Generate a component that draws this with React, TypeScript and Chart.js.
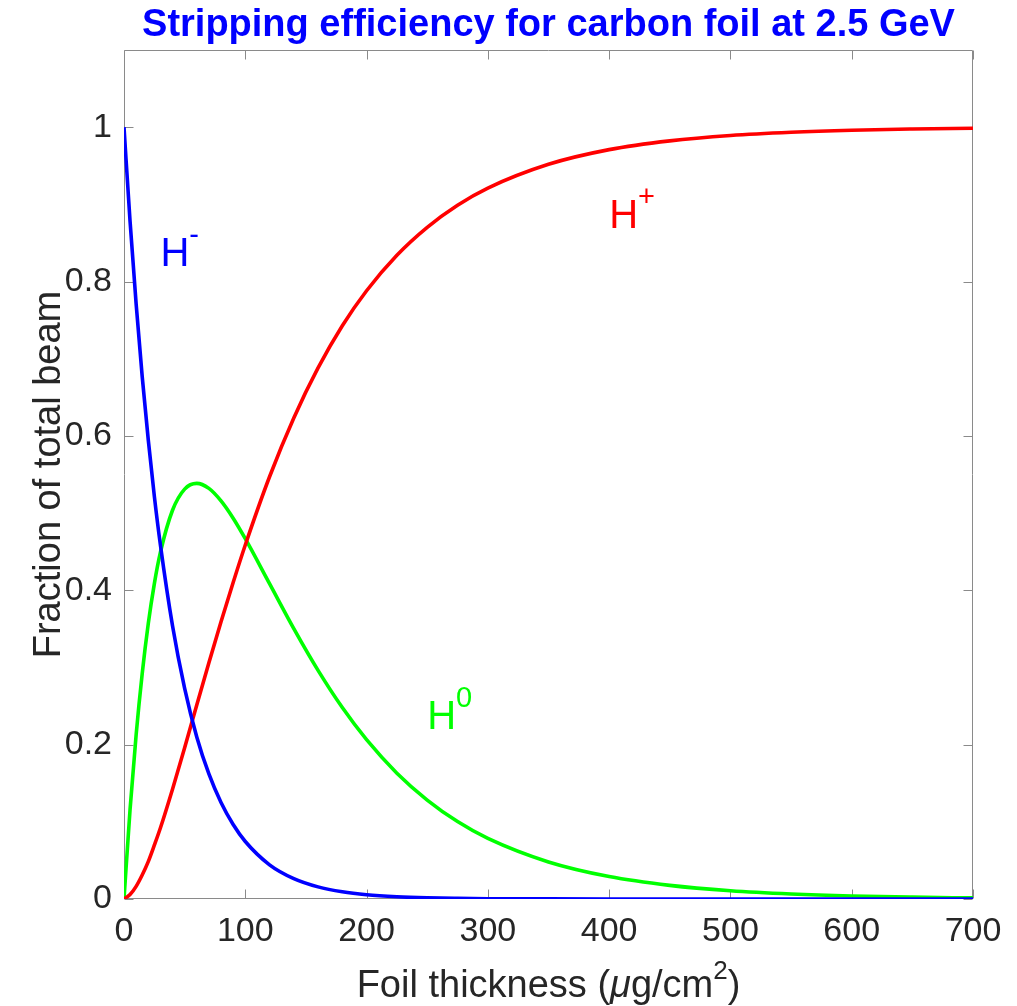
import { useEffect, useRef } from "react";
import { Chart, registerables } from "chart.js";

Chart.register(...registerables);

// Foil thickness samples (µg/cm²)
const thickness = [0, 5, 10, 15, 20, 25, 30, 40, 50, 60, 70, 80, 90, 100, 120, 140, 160, 180, 200, 225, 250, 275, 300, 350, 400, 450, 500, 550, 600, 650, 700];

// Beam fractions for each charge state
const fracHMinus = [1, 0.878, 0.771, 0.677, 0.595, 0.522, 0.459, 0.354, 0.273, 0.21, 0.162, 0.125, 0.0965, 0.0745, 0.0443, 0.0264, 0.0157, 0.0093, 0.0055, 0.0029, 0.0015, 0.0008, 0.0004, 0.0001, 0, 0, 0, 0, 0, 0, 0];
const fracH0 = [0, 0.1162, 0.2126, 0.2919, 0.3565, 0.4083, 0.449, 0.5037, 0.5311, 0.5385, 0.532, 0.5158, 0.4934, 0.4668, 0.4086, 0.3503, 0.2962, 0.248, 0.2064, 0.163, 0.1282, 0.1003, 0.0785, 0.048, 0.0291, 0.0177, 0.0107, 0.0065, 0.0039, 0.0024, 0.0014];
const fracHPlus = [0, 0.0058, 0.0164, 0.0311, 0.0485, 0.0697, 0.092, 0.1423, 0.1959, 0.2515, 0.306, 0.3592, 0.4101, 0.4587, 0.5471, 0.6233, 0.6881, 0.7427, 0.7881, 0.8341, 0.8703, 0.8989, 0.9211, 0.9519, 0.9709, 0.9823, 0.9893, 0.9935, 0.9961, 0.9976, 0.9986];

// Axis ticks
const xTickValues = [0, 100, 200, 300, 400, 500, 600, 700];
const xTickLabels = ["0", "100", "200", "300", "400", "500", "600", "700"];
const yTickValues = [0, 0.2, 0.4, 0.6, 0.8, 1];
const yTickLabels = ["0", "0.2", "0.4", "0.6", "0.8", "1"];

// In-plot species labels: base text, superscript, anchor (data units), colour
const speciesLabels = [
  { base: "H", sup: "-", x: 30, y: 0.82, color: "#0000ff" },
  { base: "H", sup: "+", x: 400, y: 0.87, color: "#ff0000" },
  { base: "H", sup: "0", x: 250, y: 0.22, color: "#00ff00" },
];

const TITLE = "Stripping efficiency for carbon foil at 2.5 GeV";
const Y_TITLE = "Fraction of total beam";

const FONT = '"Liberation Sans", Arial, Helvetica, sans-serif';
const TEXT_COLOR = "#262626";
const AXIS_COLOR = "#8a8a8a";
const TICK_LEN = 9;

const decorations = {
  id: "decorations",
  beforeDatasetsDraw(chart: any) {
    const { ctx, chartArea, scales } = chart;
    const { left, right, top, bottom } = chartArea;
    const xs = scales.x;
    const ys = scales.y;
    ctx.save();
    ctx.strokeStyle = AXIS_COLOR;
    ctx.lineWidth = 1;
    const L = Math.round(left) + 0.5;
    const R = Math.round(right) - 0.5;
    const T = Math.round(top) + 0.5;
    const B = Math.round(bottom) - 0.5;
    ctx.beginPath();
    ctx.rect(L, T, R - L, B - T);
    for (const v of xTickValues) {
      const px = Math.round(xs.getPixelForValue(v)) + 0.5;
      ctx.moveTo(px, B);
      ctx.lineTo(px, B - TICK_LEN);
      ctx.moveTo(px, T);
      ctx.lineTo(px, T + TICK_LEN);
    }
    for (const v of yTickValues) {
      const py = Math.round(ys.getPixelForValue(v)) + 0.5;
      ctx.moveTo(L, py);
      ctx.lineTo(L + TICK_LEN, py);
      ctx.moveTo(R, py);
      ctx.lineTo(R - TICK_LEN, py);
    }
    ctx.stroke();
    ctx.restore();
  },
  afterDraw(chart: any) {
    const { ctx, chartArea, scales } = chart;
    const { left, right, top, bottom } = chartArea;
    const cx = (left + right) / 2;
    ctx.save();

    // Title
    ctx.fillStyle = "#0000ff";
    ctx.font = `bold 38px ${FONT}`;
    ctx.textAlign = "center";
    ctx.textBaseline = "alphabetic";
    ctx.fillText(TITLE, cx, 36);

    // X axis title with italic mu and superscript
    const parts = [
      { t: "Foil thickness (", f: `38px ${FONT}`, dy: 0 },
      { t: "\u03bc", f: `italic 38px ${FONT}`, dy: 0 },
      { t: "g/cm", f: `38px ${FONT}`, dy: 0 },
      { t: "2", f: `26px ${FONT}`, dy: -18 },
      { t: ")", f: `38px ${FONT}`, dy: 0 },
    ];
    let total = 0;
    const widths = parts.map((p) => {
      ctx.font = p.f;
      const w = ctx.measureText(p.t).width;
      total += w;
      return w;
    });
    let xPos = cx - total / 2;
    ctx.fillStyle = TEXT_COLOR;
    ctx.textAlign = "left";
    parts.forEach((p, i) => {
      ctx.font = p.f;
      ctx.fillText(p.t, xPos, 997 + p.dy);
      xPos += widths[i];
    });

    // Y axis title
    ctx.save();
    ctx.translate(60, (top + bottom) / 2);
    ctx.rotate(-Math.PI / 2);
    ctx.textAlign = "center";
    ctx.font = `38px ${FONT}`;
    ctx.fillText(Y_TITLE, 0, 0);
    ctx.restore();

    // Species labels
    for (const s of speciesLabels) {
      const px = scales.x.getPixelForValue(s.x);
      const py = scales.y.getPixelForValue(s.y);
      ctx.fillStyle = s.color;
      ctx.textAlign = "left";
      ctx.font = `40px ${FONT}`;
      ctx.fillText(s.base, px, py);
      const w = ctx.measureText(s.base).width;
      ctx.font = `29px ${FONT}`;
      ctx.fillText(s.sup, px + w, py - 22);
    }
    ctx.restore();
  },
};

export default function App() {
  const canvasRef = useRef<HTMLCanvasElement | null>(null);

  useEffect(() => {
    const canvas = canvasRef.current;
    if (!canvas) return;
    const series = (vals: number[]) => thickness.map((x, i) => ({ x, y: vals[i] }));
    const lineStyle = {
      borderWidth: 3.6,
      pointRadius: 0,
      fill: false,
      cubicInterpolationMode: "monotone" as const,
    };
    const chart = new Chart(canvas, {
      type: "line",
      data: {
        datasets: [
          { label: "H-", data: series(fracHMinus), borderColor: "#0000ff", ...lineStyle },
          { label: "H+", data: series(fracHPlus), borderColor: "#ff0000", ...lineStyle },
          { label: "H0", data: series(fracH0), borderColor: "#00ff00", ...lineStyle },
        ],
      },
      options: {
        animation: false,
        responsive: false,
        devicePixelRatio: 1,
        layout: { padding: { left: 0, top: 50, right: 44, bottom: 0 } },
        plugins: {
          legend: { display: false },
          title: { display: false },
          tooltip: { enabled: false },
        },
        scales: {
          x: {
            type: "linear",
            min: 0,
            max: 700,
            grid: { display: false, drawTicks: false },
            border: { display: false },
            afterBuildTicks: (scale: any) => {
              scale.ticks = xTickValues.map((value) => ({ value }));
            },
            afterFit: (scale: any) => {
              scale.height = 107;
            },
            ticks: {
              autoSkip: false,
              maxRotation: 0,
              padding: 12,
              color: TEXT_COLOR,
              font: { family: FONT, size: 34 },
              callback: (value: any) => {
                const i = xTickValues.indexOf(Number(value));
                return i >= 0 ? xTickLabels[i] : "";
              },
            },
          },
          y: {
            type: "linear",
            min: 0,
            max: 1.1,
            grid: { display: false, drawTicks: false },
            border: { display: false },
            afterBuildTicks: (scale: any) => {
              scale.ticks = yTickValues.map((value) => ({ value }));
            },
            afterFit: (scale: any) => {
              scale.width = 124;
            },
            ticks: {
              autoSkip: false,
              padding: 12,
              color: TEXT_COLOR,
              font: { family: FONT, size: 34 },
              callback: (value: any) => {
                const i = yTickValues.findIndex((v) => Math.abs(v - Number(value)) < 1e-9);
                return i >= 0 ? yTickLabels[i] : "";
              },
            },
          },
        },
      },
      plugins: [decorations],
    });
    return () => chart.destroy();
  }, []);

  return (
    <div style={{ position: "fixed", left: 0, top: 0, width: 1017, height: 1006, background: "#fff" }}>
      <canvas ref={canvasRef} width={1017} height={1006} style={{ display: "block" }} />
    </div>
  );
}
